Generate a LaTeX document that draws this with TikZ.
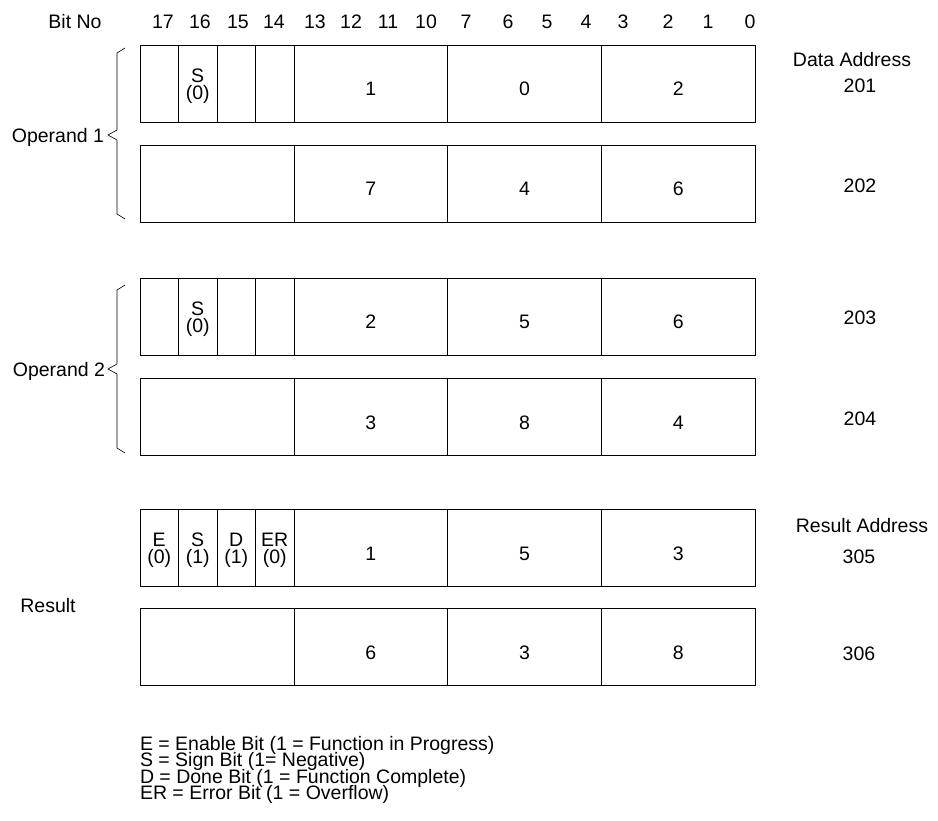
\documentclass[tikz,border=0pt]{standalone}
\usepackage{fontspec}
\setmainfont{Liberation Sans}
\begin{document}
\begin{tikzpicture}[x=1pt,y=-1pt,
  every node/.style={font=\fontsize{19.5}{17}\selectfont, inner sep=0pt, outer sep=0pt},
  cellbox/.style={draw, line width=0.8pt, anchor=north west, minimum height=77pt},
  narrow/.style={cellbox, minimum width=38.5pt},
  wide/.style={cellbox, minimum width=153.67pt},
  dbl/.style={cellbox, minimum width=154pt},
  txt/.style={anchor=base},
  brc/.style={line width=0.6pt}]
\useasboundingbox (0,0) rectangle (938,821);

% header
\node[txt] (bitno) at (75,29) {Bit No};
\foreach \n/\x in {17/163,16/200,15/238,14/274,13/315,12/351,11/388,10/426,7/466,6/508,5/547,4/586,3/623,2/668,1/708,0/750}
  \node[txt] (bit\n) at (\x,29) {\n};

% row with four narrow cells
\newcommand\narrowrow[8]{%
  \node[narrow] (#1c1) at (140,#2) {};
  \node[narrow] (#1c2) at (#1c1.north east) {};
  \node[narrow] (#1c3) at (#1c2.north east) {};
  \node[narrow] (#1c4) at (#1c3.north east) {};
  \node[wide] (#1c5) at (#1c4.north east) {};
  \node[wide] (#1c6) at (#1c5.north east) {};
  \node[wide] (#1c7) at (#1c6.north east) {};
  \node[txt] (#1t5) at ([yshift=-51pt]#1c5.north) {#6};
  \node[txt] (#1t6) at ([yshift=-51pt]#1c6.north) {#7};
  \node[txt] (#1t7) at ([yshift=-51pt]#1c7.north) {#8};
}
\newcommand\plainrow[5]{%
  \node[dbl] (#1c1) at (140,#2) {};
  \node[wide] (#1c5) at (#1c1.north east) {};
  \node[wide] (#1c6) at (#1c5.north east) {};
  \node[wide] (#1c7) at (#1c6.north east) {};
  \node[txt] (#1t5) at ([yshift=-51pt]#1c5.north) {#3};
  \node[txt] (#1t6) at ([yshift=-51pt]#1c6.north) {#4};
  \node[txt] (#1t7) at ([yshift=-51pt]#1c7.north) {#5};
}
\newcommand\flag[3]{\node[align=center] (#1) at ([yshift=-3pt]#2.center) {#3};}

% Operand 1
\narrowrow{A}{45}{}{}{}{1}{0}{2}
\flag{As}{Ac2}{S\\(0)}
\plainrow{B}{145}{7}{4}{6}
% Operand 2
\narrowrow{C}{278}{}{}{}{2}{5}{6}
\flag{Cs}{Cc2}{S\\(0)}
\plainrow{D}{378}{3}{8}{4}
% Result
\narrowrow{E}{509}{}{}{}{1}{5}{3}
\flag{Ee}{Ec1}{E\\(0)}
\flag{Es}{Ec2}{S\\(1)}
\flag{Ed}{Ec3}{D\\(1)}
\flag{Eer}{Ec4}{ER\\(0)}
\plainrow{F}{608}{6}{3}{8}

% braces
\newcommand\mybrace[3]{\draw[brc] (125,#1) -- (117,#1+5) -- (117,#3-5) -- (108,#3) -- (117,#3+5) -- (117,#2-5) -- (125,#2);}
\mybrace{48}{219}{135}
\mybrace{285}{453}{369}

% left labels
\node[anchor=base east] (op1) at (104,143) {Operand 1};
\node[anchor=base east] (op2) at (105,377) {Operand 2};
\node[txt] (res) at (48,612) {Result};

% right labels
\node[txt] (dataaddr) at (852,67) {Data Address};
\node[txt] (a201) at (860,93) {201};
\node[txt] (a202) at (860,193) {202};
\node[txt] (a203) at (860,325) {203};
\node[txt] (a204) at (860,425) {204};
\node[txt] (resaddr) at (862,532) {Result Address};
\node[txt] (a305) at (859,563) {305};
\node[txt] (a306) at (859,660) {306};

% legend
\node[anchor=base west] (l1) at (140,750) {E = Enable Bit (1 = Function in Progress)};
\node[anchor=base west] (l2) at (140,766.5) {S = Sign Bit (1= Negative)};
\node[anchor=base west] (l3) at (140,783) {D = Done Bit (1 = Function Complete)};
\node[anchor=base west] (l4) at (140,799) {ER = Error Bit (1 = Overflow)};
\end{tikzpicture}
\end{document}
